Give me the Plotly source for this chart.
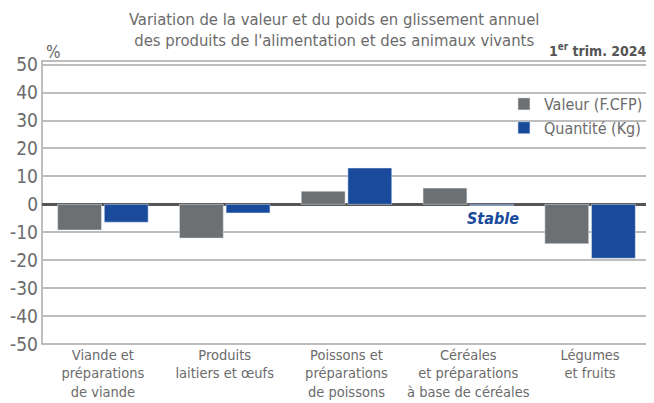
import plotly.graph_objects as go

categories = ["Viande et<br>préparations<br>de viande",
              "Produits<br>laitiers et œufs",
              "Poissons et<br>préparations<br>de poissons",
              "Céréales<br>et préparations<br>à base de céréales",
              "Légumes<br>et fruits"]
valeur = [-9.2, -12.1, 4.7, 5.8, -14.1]
quantite = [-6.4, -3.1, 13.0, -0.4, -19.3]
yticks = [50, 40, 30, 20, 10, 0, -10, -20, -30, -40, -50]
yticklabels = ["50", "40", "30", "20", "10", "0", "-10", "-20", "-30", "-40", "-50"]

FONT = "Liberation Sans Narrow, DejaVu Sans Condensed, Liberation Sans, sans-serif"
GRAY_TXT = "#6b6b6b"
GRAY = "#6d7073"
BLUE = "#1a4a9c"

def f(size, color=GRAY_TXT):
    return dict(family=FONT, size=size, color=color)

fig = go.Figure()
fig.add_bar(x=categories, y=valeur, name="Valeur (F.CFP)", marker_color=GRAY,
            legendgroup="a")
fig.add_bar(x=categories, y=quantite, name="Quantité (Kg)", marker_color=BLUE,
            legendgroup="b")

# the page body has an 8px margin, so the figure is sized to fit the window
fig.update_layout(
    width=646, height=395,
    margin=dict(l=34, r=3, t=53, b=59, autoexpand=False),
    paper_bgcolor="white", plot_bgcolor="white",
    barmode="group", bargap=0.234, bargroupgap=0.06,
    font=f(16),
    showlegend=True,
    legend=dict(x=0.995, xanchor="right", y=0.908, yanchor="top",
                bgcolor="rgba(0,0,0,0)", font=f(16),
                tracegroupgap=9, traceorder="normal"),
    xaxis=dict(showgrid=False, showline=False, ticks="", automargin=False,
               tickfont=f(14.5), fixedrange=True),
    yaxis=dict(range=[-50, 51.3], tickvals=yticks, ticktext=yticklabels,
               showgrid=True, gridcolor="#bdbdbd", gridwidth=1.5, zeroline=True,
               zerolinecolor="#555555", zerolinewidth=2.5, automargin=False,
               showline=False, ticks="", ticklabelstandoff=3,
               tickfont=f(19)),
    shapes=[dict(type="rect", xref="paper", yref="paper", x0=0, x1=1, y0=0, y1=1,
                 line=dict(color="#a8a8a8", width=1.5), layer="below")],
    annotations=[
        dict(text="Variation de la valeur et du poids en glissement annuel<br>"
                  "des produits de l'alimentation et des animaux vivants",
             xref="paper", yref="paper", x=0.48, y=1, yshift=53, yanchor="top",
             showarrow=False, font=f(16.5)),
        dict(text="<b>1<sup>er</sup> trim. 2024</b>", xref="paper", yref="paper",
             x=1, xshift=-2, y=1, xanchor="right", yanchor="bottom", showarrow=False,
             font=f(14, "#555555")),
        dict(text="%", xref="paper", yref="paper", x=0, xshift=2, y=1,
             xanchor="left", yanchor="bottom", yshift=-3, showarrow=False,
             font=f(17)),
        dict(text="<b><i>Stable</i></b>", x=categories[3], y=0, xshift=25,
             yshift=-3, yanchor="top", showarrow=False, font=f(16, BLUE)),
    ],
)

fig.write_html("out.html")
